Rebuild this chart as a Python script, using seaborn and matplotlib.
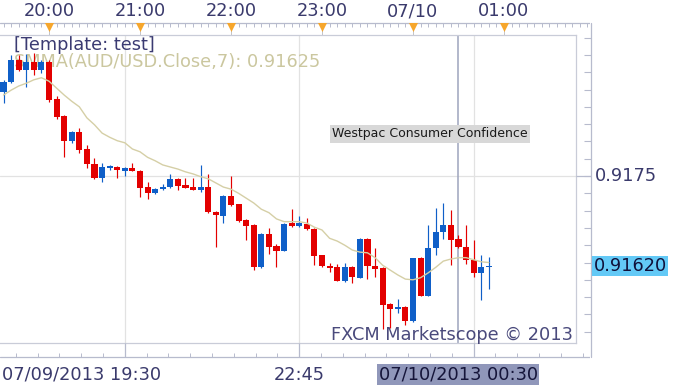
import numpy as np
import pandas as pd
import matplotlib
matplotlib.use("Agg")
import matplotlib.pyplot as plt
import seaborn as sns

# ---------------- data (AUD/USD, 5-minute candles) ----------------
opens = [0.91872, 0.91886, 0.91918, 0.91903, 0.91915, 0.91903, 0.91915, 0.91861, 0.91837, 0.91801,
         0.91814, 0.91789, 0.91767, 0.91747, 0.91762, 0.91763, 0.91757, 0.91762, 0.91757, 0.91734,
         0.91725, 0.91731, 0.91734, 0.91746, 0.91737, 0.91734, 0.91730, 0.91734, 0.91698, 0.91692,
         0.91721, 0.91710, 0.91686, 0.91679, 0.91618, 0.91666, 0.91649, 0.91642, 0.91682, 0.91678,
         0.91681, 0.91673, 0.91636, 0.91620, 0.91618, 0.91598, 0.91618, 0.91603, 0.91659, 0.91620,
         0.91617, 0.91565, 0.91558, 0.91561, 0.91540, 0.91632, 0.91577, 0.91646, 0.91669, 0.91679,
         0.91659, 0.91647, 0.91629, 0.91610, 0.91618]
highs = [0.91889, 0.91925, 0.91925, 0.91926, 0.91928, 0.91918, 0.91918, 0.91866, 0.91838, 0.91815,
         0.91819, 0.91795, 0.91776, 0.91769, 0.91766, 0.91764, 0.91763, 0.91769, 0.91759, 0.91741,
         0.91733, 0.91738, 0.91753, 0.91747, 0.91747, 0.91747, 0.91766, 0.91753, 0.91699, 0.91723,
         0.91750, 0.91710, 0.91688, 0.91681, 0.91668, 0.91675, 0.91652, 0.91682, 0.91702, 0.91692,
         0.91689, 0.91675, 0.91636, 0.91624, 0.91623, 0.91624, 0.91620, 0.91660, 0.91660, 0.91646,
         0.91618, 0.91566, 0.91572, 0.91562, 0.91632, 0.91633, 0.91679, 0.91704, 0.91711, 0.91701,
         0.91665, 0.91679, 0.91658, 0.91636, 0.91633]
lows = [0.91855, 0.91885, 0.91902, 0.91879, 0.91896, 0.91899, 0.91857, 0.91832, 0.91777, 0.91798,
        0.91783, 0.91762, 0.91746, 0.91741, 0.91759, 0.91747, 0.91750, 0.91757, 0.91720, 0.91717,
        0.91724, 0.91730, 0.91733, 0.91730, 0.91733, 0.91730, 0.91727, 0.91697, 0.91647, 0.91682,
        0.91707, 0.91684, 0.91658, 0.91614, 0.91617, 0.91637, 0.91618, 0.91642, 0.91676, 0.91676,
        0.91672, 0.91621, 0.91618, 0.91611, 0.91598, 0.91597, 0.91595, 0.91603, 0.91601, 0.91604,
        0.91529, 0.91530, 0.91552, 0.91535, 0.91539, 0.91577, 0.91576, 0.91636, 0.91659, 0.91621,
        0.91646, 0.91623, 0.91604, 0.91571, 0.91587]
closes = [0.91886, 0.91918, 0.91903, 0.91915, 0.91903, 0.91915, 0.91860, 0.91835, 0.91801, 0.91814,
          0.91788, 0.91767, 0.91747, 0.91763, 0.91763, 0.91759, 0.91762, 0.91757, 0.91733, 0.91725,
          0.91731, 0.91734, 0.91746, 0.91736, 0.91733, 0.91730, 0.91734, 0.91698, 0.91694, 0.91721,
          0.91708, 0.91685, 0.91678, 0.91618, 0.91666, 0.91647, 0.91642, 0.91681, 0.91678, 0.91682,
          0.91673, 0.91634, 0.91620, 0.91617, 0.91598, 0.91618, 0.91604, 0.91659, 0.91620, 0.91616,
          0.91564, 0.91558, 0.91561, 0.91540, 0.91632, 0.91577, 0.91646, 0.91669, 0.91679, 0.91658,
          0.91647, 0.91629, 0.91610, 0.91618, 0.91620]
smma = [0.91867, 0.91874, 0.91880, 0.91884, 0.91889, 0.91892, 0.91887, 0.91877, 0.91867, 0.91858,
        0.91850, 0.91834, 0.91824, 0.91812, 0.91806, 0.91801, 0.91798, 0.91789, 0.91785, 0.91777,
        0.91772, 0.91766, 0.91763, 0.91760, 0.91756, 0.91753, 0.91749, 0.91746, 0.91740, 0.91734,
        0.91731, 0.91725, 0.91718, 0.91711, 0.91702, 0.91697, 0.91688, 0.91684, 0.91684, 0.91684,
        0.91682, 0.91676, 0.91672, 0.91660, 0.91656, 0.91650, 0.91643, 0.91640, 0.91639, 0.91632,
        0.91621, 0.91614, 0.91607, 0.91601, 0.91600, 0.91603, 0.91610, 0.91618, 0.91627, 0.91630,
        0.91632, 0.91632, 0.91629, 0.91626, 0.91625]
start_time = "2013-07-09 19:30"

top_labels = ["20:00", "21:00", "22:00", "23:00", "07/10", "01:00"]
top_label_times = ["2013-07-09 20:00", "2013-07-09 21:00", "2013-07-09 22:00",
                   "2013-07-09 23:00", "2013-07-10 00:00", "2013-07-10 01:00"]
bottom_labels = ["07/09/2013 19:30", "22:45", "07/10/2013 00:30"]
bottom_label_times = ["2013-07-09 19:30", "2013-07-09 22:45", "2013-07-10 00:30"]
grid_times = ["2013-07-09 20:50", "2013-07-09 22:45", "2013-07-10 00:40"]
event_time = "2013-07-10 00:30"
event_name = "Westpac Consumer Confidence"
price_label = "0.9175"
price_label_value = 0.9175
last_price_text = "0.91620"
last_price_value = 0.91620
template_text = "[Template: test]"
indicator_text = "SMMA(AUD/USD.Close,7): 0.91625"
brand_text = "FXCM Marketscope \u00a9 2013"

# ---------------- layout helpers ----------------
W, H = 680, 387
X0PX, DX = 3.5, 7.583          # pixel of first candle, pixels per candle
Y0PX, PPX = 176.0, 69200.0     # pixel of 0.9175, pixels per price unit
t0 = pd.Timestamp(start_time)


def tidx(t):
    return (pd.Timestamp(t) - t0) / pd.Timedelta("5min")


def px2i(px):
    return (px - X0PX) / DX


def py2p(py):
    return 0.9175 + (Y0PX - py) / PPX


def rect(x0, y0, x1, y1):
    return [x0 / W, 1 - y1 / H, (x1 - x0) / W, (y1 - y0) / H]


sns.set_theme(style="white")
plt.rcParams["font.family"] = ["DejaVu Sans"]

RED = "#e30000"
BLUE = "#0f5fc8"
AXC = "#b7bbcd"
TXT = "#3a3a6c"
FS = 12.8

fig = plt.figure(figsize=(W / 100, H / 100), dpi=100)
fig.patch.set_facecolor("white")

# ---------------- main price panel ----------------
ax = fig.add_axes(rect(0, 35, 576, 343))
ax.set_xlim(px2i(0), px2i(576))
ax.set_ylim(py2p(343), py2p(35))
ax.set_xticks([])
ax.set_yticks([])
for s in ["top", "right", "bottom"]:
    ax.spines[s].set_color("#c9ccd8")
    ax.spines[s].set_linewidth(0.9)
ax.spines["left"].set_visible(False)

ax.axhline(price_label_value, color="#e2e2e2", lw=0.9, zorder=0)
for g in grid_times:
    ax.axvline(tidx(g), color="#e2e2e2", lw=0.9, zorder=0)
ax.axvline(tidx(event_time), color="#9ea4bd", lw=1.1, zorder=1)

df = pd.DataFrame({"time": pd.date_range(start_time, periods=len(opens), freq="5min"),
                   "open": opens, "high": highs, "low": lows, "close": closes, "smma": smma})
df["x"] = (df["time"] - t0) / pd.Timedelta("5min")
up = df["close"] >= df["open"]
cols = np.where(up, BLUE, RED)

ax.text(14 / W, 1 - 45 / H, template_text, transform=fig.transFigure, fontsize=FS,
        color="#3b3b72", va="center", ha="left", zorder=1)
ax.text(14 / W, 1 - 62 / H, indicator_text, transform=fig.transFigure, fontsize=FS,
        color="#cbc79f", va="center", ha="left", zorder=1)

ax.vlines(df["x"], df["low"], df["high"], colors=cols, lw=0.85, zorder=3)
body_lo = np.minimum(df["open"], df["close"])
body_h = np.maximum((df["close"] - df["open"]).abs(), 0.000022)
ax.bar(df["x"], body_h, bottom=body_lo, width=0.8, color=cols, lw=0, zorder=4)

sns.lineplot(data=df, x="x", y="smma", ax=ax, color="#d5cfa6", lw=1.0, zorder=5, legend=False)
ax.set_xlabel("")
ax.set_ylabel("")
ax.set_xlim(px2i(0), px2i(576))
ax.set_ylim(py2p(343), py2p(35))

ax.text(px2i(332), py2p(133.5), event_name, fontsize=9, color="#1a1a1a", va="center", ha="left",
        zorder=6, bbox=dict(boxstyle="square,pad=0.2", facecolor="#d8d8d8", edgecolor="none"))

ax.text(573 / W, 1 - 335 / H, brand_text, transform=fig.transFigure, fontsize=FS,
        color="#4a4a7c", va="center", ha="right", zorder=7)

# ---------------- top time strip ----------------
axt = fig.add_axes(rect(0, 0, 590, 35))
axt.set_xlim(px2i(0), px2i(590))
axt.set_ylim(35, 0)
axt.axis("off")
axt.plot([px2i(0), px2i(590)], [23, 23], color=AXC, lw=0.9)
minor = np.arange(0, int(px2i(590)) + 1)
axt.vlines(minor, 23, 26.5, color=AXC, lw=0.7)
hx = [tidx(t) for t in top_label_times]
axt.vlines(hx, 27, 35, color="#c4c4c8", lw=0.7)
axt.scatter(hx, [26.5] * len(hx), marker="v", s=42, color="#f6a62c", lw=0, zorder=5)
for lab, x in zip(top_labels, hx):
    axt.text(x, 11.5, lab, ha="center", va="center", fontsize=FS, color=TXT)

# ---------------- bottom time strip ----------------
axb = fig.add_axes(rect(0, 343, 590, 387))
axb.set_xlim(px2i(0), px2i(590))
axb.set_ylim(387, 343)
axb.axis("off")
axb.plot([px2i(0), px2i(590)], [356.5, 356.5], color=AXC, lw=0.9)
gx = [tidx(g) for g in grid_times]
step = (gx[1] - gx[0]) / 8
bt = np.arange(gx[0] - 6 * step, px2i(590), step)
axb.vlines(bt, 352.5, 356.5, color=AXC, lw=0.7)
axb.vlines(gx, 343, 356.5, color=AXC, lw=0.9)
bx = [tidx(t) for t in bottom_label_times]
axb.text(px2i(1.5), 374.5, bottom_labels[0], ha="left", va="center", fontsize=FS, color=TXT)
axb.text(bx[1], 374.5, bottom_labels[1], ha="center", va="center", fontsize=FS, color=TXT)
axb.text(bx[2], 374.5, bottom_labels[2], ha="center", va="center", fontsize=FS, color="#15153a",
         bbox=dict(boxstyle="square,pad=0.08", facecolor="#9097ba", edgecolor="none"))

# ---------------- right price scale ----------------
axr = fig.add_axes(rect(576, 0, 680, 387))
axr.set_xlim(576, 680)
axr.set_ylim(py2p(387), py2p(0))
axr.axis("off")
axr.plot([590.5, 590.5], [py2p(23), py2p(357)], color=AXC, lw=0.9)
ticks = np.arange(0.91525, 0.91951, 0.00025)
axr.hlines(ticks, 584, 590.5, color=AXC, lw=0.8)
axr.hlines([price_label_value], 576, 590.5, color=AXC, lw=0.9)
axr.text(595, price_label_value, price_label, va="center", ha="left", fontsize=FS, color=TXT)
axr.text(593.5, last_price_value, last_price_text, va="center", ha="left", fontsize=FS,
         color="#10103a", bbox=dict(boxstyle="square,pad=0.06", facecolor="#63c9f6", edgecolor="none"))

fig.savefig("out.png", dpi=100, facecolor="white")
